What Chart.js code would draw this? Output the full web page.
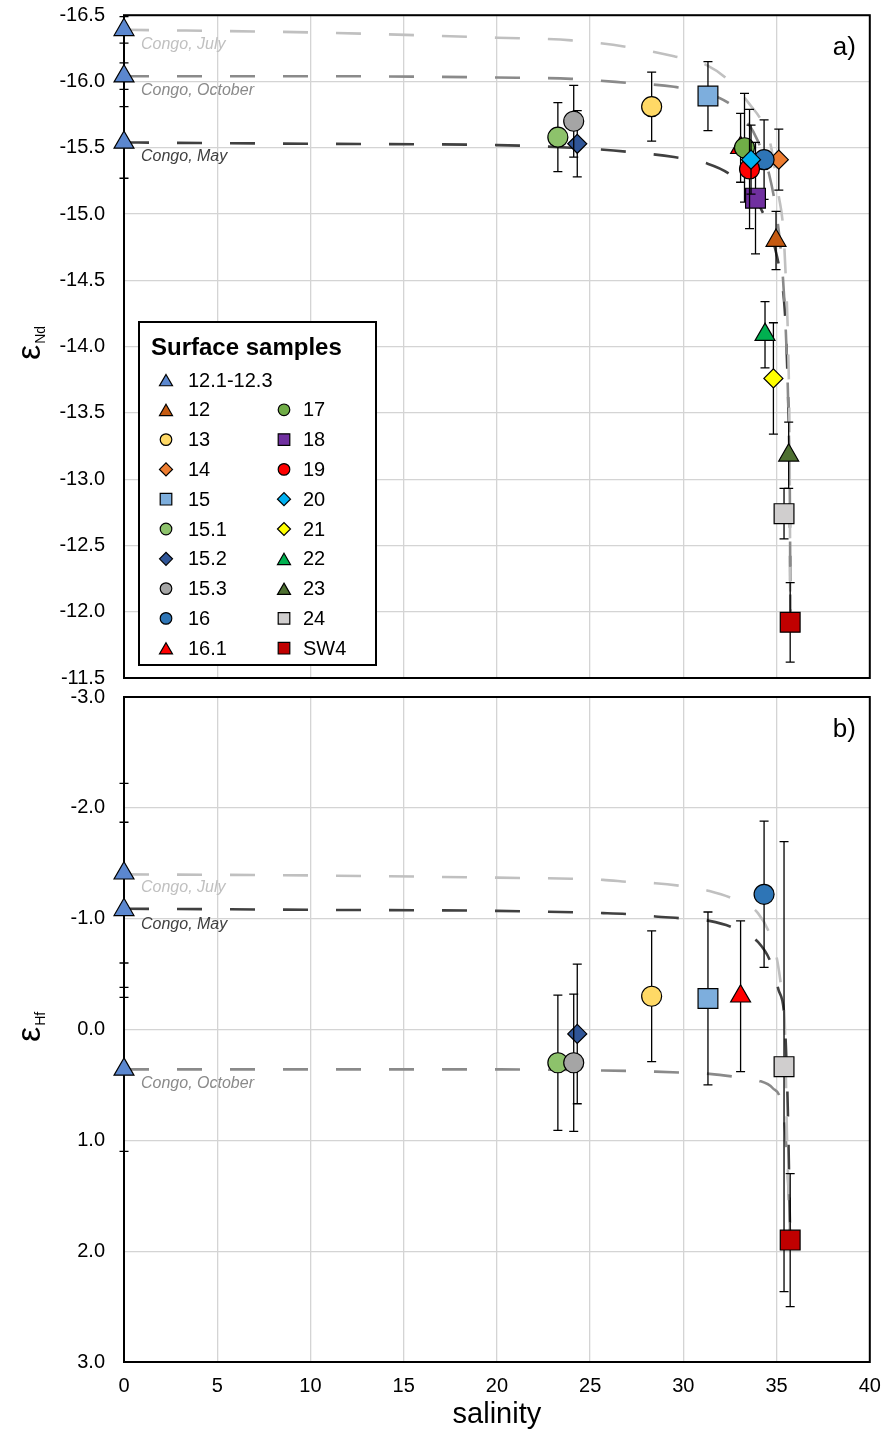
<!DOCTYPE html>
<html>
<head>
<meta charset="utf-8">
<script src="https://cdn.jsdelivr.net/npm/chart.js@4.4.1/dist/chart.umd.min.js"></script>
<style>
  body { margin: 0; background: #fff; }
  #wrap { position: relative; width: 885px; height: 1432px; }
  canvas { position: absolute; left: 0; }
  #chartNd { top: 0; }
  #chartHf { top: 680px; }
</style>
</head>
<body>
<div id="wrap">
  <canvas id="chartNd" width="885" height="700"></canvas>
  <canvas id="chartHf" width="885" height="752"></canvas>
</div>
<script>
// DATA

const samples = ["12", "13", "14", "15", "15.1", "15.2", "15.3", "16", "16.1", "17", "18", "19", "20", "21", "22", "23", "24", "SW4"];
const salinity = [34.97, 28.3, 35.12, 31.32, 23.27, 24.31, 24.12, 34.33, 33.07, 33.28, 33.87, 33.55, 33.63, 34.83, 34.38, 35.65, 35.4, 35.73];
const epsNd = [-14.80, -15.81, -15.41, -15.89, -15.58, -15.53, -15.70, -15.41, -15.50, -15.50, -15.12, -15.34, -15.41, -13.76, -14.09, -13.18, -12.74, -11.92];
const epsNdErr = [0.22, 0.26, 0.23, 0.26, 0.26, 0.25, 0.27, 0.30, 0.26, 0.41, 0.42, 0.45, 0.26, 0.42, 0.25, 0.25, 0.19, 0.30];
const epsHf = [null, -0.30, null, -0.28, 0.30, 0.04, 0.30, -1.22, -0.30, null, null, null, null, null, null, null, 0.335, 1.90];
const epsHfErr = [null, 0.59, null, 0.78, 0.61, 0.63, 0.62, 0.66, 0.68, null, null, null, null, null, null, null, 2.03, 0.60];

// Congo river end members (samples 12.1-12.3)
const congoMonths = ["July", "October", "May"];
const congoSalinity = [0, 0, 0];
const congoNd = [-16.39, -16.04, -15.54];
const congoNdErr = [0.10, 0.10, 0.27];
const congoHf = [-1.41, 0.36, -1.08];
const congoHfErr = [0.81, 0.74, 0.79];

// mixing curves
const mixNdJulySal = [0, 10, 20, 24, 27, 29.5, 31.3, 32.5, 33.6, 34.2, 34.7, 35.1, 35.35, 35.5, 35.62, 35.7, 35.74];
const mixNdJuly = [-16.39, -16.37, -16.33, -16.31, -16.26, -16.19, -16.12, -16.0, -15.82, -15.7, -15.51, -15.15, -14.9, -14.5, -14.0, -13.2, -11.92];
const mixNdOctSal = [0, 10, 20, 24, 27, 29.5, 31.3, 32.4, 33.3, 34.0, 34.6, 35.0, 35.3, 35.5, 35.65, 35.72, 35.74];
const mixNdOct = [-16.04, -16.04, -16.03, -16.02, -15.99, -15.96, -15.91, -15.84, -15.72, -15.55, -15.3, -15.0, -14.6, -14.1, -13.4, -12.7, -11.92];
const mixNdMaySal = [0, 10, 20, 24, 27, 29.5, 31.3, 32.5, 33.5, 34.3, 34.9, 35.2, 35.45, 35.58, 35.68, 35.72, 35.74];
const mixNdMay = [-15.54, -15.53, -15.52, -15.5, -15.47, -15.43, -15.38, -15.3, -15.17, -15.0, -14.75, -14.55, -14.25, -13.8, -13.2, -12.6, -11.92];

const mixHfJulySal = [0, 10, 20, 24, 25.7, 27.2, 28.5, 30.1, 31.4, 32.8, 34.0, 34.7, 35.06, 35.3, 35.45, 35.55, 35.65, 35.73];
const mixHfJuly = [-1.40, -1.39, -1.37, -1.36, -1.35, -1.33, -1.32, -1.29, -1.25, -1.17, -1.05, -0.83, -0.60, -0.30, 0.0, 0.9, 1.5, 1.90];
const mixHfMaySal = [0, 10, 20, 25.7, 27.2, 28.5, 30.1, 31.4, 32.8, 34.0, 34.7, 35.1, 35.4, 35.5, 35.6, 35.68, 35.73];
const mixHfMay = [-1.09, -1.08, -1.07, -1.05, -1.04, -1.02, -1.0, -0.98, -0.91, -0.79, -0.6, -0.36, -0.15, 0.15, 0.7, 1.4, 1.90];
const mixHfOctSal = [0, 10, 20, 25.7, 28.5, 30.1, 31.4, 32.9, 34.0, 34.8, 35.25, 35.5, 35.65, 35.73];
const mixHfOct = [0.36, 0.36, 0.36, 0.37, 0.38, 0.39, 0.40, 0.43, 0.46, 0.53, 0.66, 1.0, 1.5, 1.90];

// tick labels
const xTicks = [0, 5, 10, 15, 20, 25, 30, 35, 40];
const ndTicks = [-16.5, -16.0, -15.5, -15.0, -14.5, -14.0, -13.5, -13.0, -12.5, -12.0, -11.5];
const hfTicks = [-3, -2, -1, 0, 1, 2, 3];

// STYLES

const sampleStyle = ["triangle", "circle", "rectRot", "rect", "circle", "rectRot", "circle", "circle", "triangle", "circle", "rect", "circle", "rectRot", "rectRot", "triangle", "triangle", "rect", "rect"];
const sampleColor = ["#C55A11", "#FFD966", "#ED7D31", "#7DAEDD", "#8DC26B", "#2F5597", "#A5A5A5", "#2E75B6", "#FF0000", "#70AD47", "#7030A0", "#FF0000", "#00B0F0", "#FFFF00", "#00B050", "#4E7031", "#D0CECE", "#C00000"];
const congoColor = "#5B87CF";
const monthColor = { July: "#C0C0C0", October: "#8A8A8A", May: "#404040" };
const bigRadius = { circle: 10, rect: 14, rectRot: 9.5, triangle: 11.5 };
const smallRadius = { circle: 5.8, rect: 8.2, rectRot: 6.5, triangle: 7.5 };

Chart.defaults.font.family = "'Liberation Sans', Arial, sans-serif";
Chart.defaults.color = "#000";

function markerSet(label, xs, ys, errs, style, color, order) {
	return {
		label: label,
		data: xs.map((x, i) => ({ x: x, y: ys[i] })),
		errors: errs,
		pointStyle: style,
		pointRadius: bigRadius[style],
		backgroundColor: color,
		borderColor: "#000",
		borderWidth: 1.2,
		showLine: false,
		clip: false,
		order: order,
	};
}

function mixLine(label, xs, ys, color) {
	return {
		label: label,
		data: xs.map((x, i) => ({ x: x, y: ys[i] })),
		showLine: true,
		pointRadius: 0,
		borderColor: color,
		borderWidth: 2.6,
		borderDash: [25, 28],
		cubicInterpolationMode: "monotone",
		fill: false,
		clip: false,
		order: 100,
	};
}

function buildSets(values, errs, cVals, cErrs, lines) {
	const sets = lines.slice();
	sets.push(markerSet("12.1-12.3", congoSalinity, cVals, cErrs, "triangle", congoColor, 0));
	samples.forEach((name, i) => {
		if (values[i] === null) return;
		sets.push(markerSet(name, [salinity[i]], [values[i]], [errs[i]], sampleStyle[i], sampleColor[i], -(i + 1)));
	});
	return sets;
}

// PLUGIN: frame, error bars, labels, legend
const extras = {
	id: "extras",
	beforeDatasetsDraw(chart) {
		const ctx = chart.ctx, a = chart.chartArea;
		ctx.save();
		ctx.strokeStyle = "#000";
		ctx.lineWidth = 2;
		ctx.strokeRect(a.left, a.top, a.right - a.left, a.bottom - a.top);
		ctx.restore();
	},
	beforeDatasetDraw(chart, args) {
		const ds = chart.data.datasets[args.index];
		if (!ds.errors) return;
		const ys = chart.scales.y, ctx = chart.ctx;
		ctx.save();
		ctx.strokeStyle = "#000";
		ctx.lineWidth = 1.3;
		args.meta.data.forEach((pt, i) => {
			const v = ds.data[i].y, e = ds.errors[i];
			const y1 = ys.getPixelForValue(v - e), y2 = ys.getPixelForValue(v + e);
			ctx.beginPath();
			ctx.moveTo(pt.x, y1); ctx.lineTo(pt.x, y2);
			ctx.moveTo(pt.x - 4.5, y1); ctx.lineTo(pt.x + 4.5, y1);
			ctx.moveTo(pt.x - 4.5, y2); ctx.lineTo(pt.x + 4.5, y2);
			ctx.stroke();
		});
		ctx.restore();
	},
	afterDraw(chart) {
		const o = chart.options.plugins.extras;
		const ctx = chart.ctx, a = chart.chartArea;
		const xs = chart.scales.x, ys = chart.scales.y;
		ctx.save();

		// Congo labels under the mixing lines
		ctx.font = "italic 16px 'Liberation Sans'";
		ctx.textAlign = "left";
		ctx.textBaseline = "alphabetic";
		congoMonths.forEach((m, i) => {
			ctx.fillStyle = monthColor[m];
			ctx.fillText("Congo, " + m, xs.getPixelForValue(0) + 17, ys.getPixelForValue(o.congo[i]) + 19);
		});

		// panel letter
		ctx.fillStyle = "#000";
		ctx.font = "26px 'Liberation Sans'";
		ctx.textAlign = "right";
		ctx.fillText(o.panel, a.right - 14, a.top + 40);

		// y title, epsilon with subscript
		ctx.translate(40, o.titleY);
		ctx.rotate(-Math.PI / 2);
		ctx.textAlign = "left";
		ctx.font = "34px 'Liberation Sans'";
		ctx.fillText("ε", 0, 0);
		const w = ctx.measureText("ε").width;
		ctx.font = "14px 'Liberation Sans'";
		ctx.fillText(o.sub, w + 1, 5);
		ctx.setTransform(1, 0, 0, 1, 0, 0);

		if (o.legend) drawLegend(ctx);
		ctx.restore();
	},
};

function drawLegend(ctx) {
	const L = 139, T = 322, R = 376, B = 665;
	ctx.fillStyle = "#fff";
	ctx.fillRect(L, T, R - L, B - T);
	ctx.strokeStyle = "#000";
	ctx.lineWidth = 2;
	ctx.strokeRect(L, T, R - L, B - T);
	ctx.fillStyle = "#000";
	ctx.font = "bold 24px 'Liberation Sans'";
	ctx.textAlign = "left";
	ctx.textBaseline = "alphabetic";
	ctx.fillText("Surface samples", 151, 355);

	const entries = [{ name: "12.1-12.3", style: "triangle", color: congoColor }].concat(
		samples.map((s, i) => ({ name: s, style: sampleStyle[i], color: sampleColor[i] }))
	);
	ctx.font = "20px 'Liberation Sans'";
	ctx.textBaseline = "middle";
	entries.forEach((e, k) => {
		const col = k < 10 ? 0 : 1;
		const row = k < 10 ? k : k - 9;
		const mx = col ? 284 : 166, tx = col ? 303 : 188;
		const y = 380 + row * 29.8;
		ctx.fillStyle = e.color;
		ctx.strokeStyle = "#000";
		ctx.lineWidth = 1.2;
		const dy = e.style === "triangle" ? 2 : 0;
		Chart.helpers.drawPoint(ctx, { pointStyle: e.style, radius: smallRadius[e.style], borderWidth: 1.2, rotation: 0 }, mx, y + dy);
		ctx.fillStyle = "#000";
		ctx.fillText(e.name, tx, y + 1);
	});
}

function baseOptions(yMin, yMax, yTicks, showX) {
	return {
		responsive: false,
		animation: false,
		events: [],
		plugins: { legend: { display: false }, tooltip: { enabled: false } },
		scales: {
			x: {
				type: "linear",
				min: 0,
				max: 40,
				afterBuildTicks: (s) => { s.ticks = xTicks.map((v) => ({ value: v })); },
				afterFit: (s) => { s.height = showX ? 70 : 0; s.paddingLeft = 0; s.paddingRight = 0; },
				grid: { color: "#D4D4D4", lineWidth: 1.3, drawTicks: false },
				border: { display: false },
				ticks: { display: showX, font: { size: 20 }, padding: 12, maxRotation: 0 },
				title: { display: showX, text: "salinity", font: { size: 29 }, padding: { top: 2, bottom: 0 } },
			},
			y: {
				type: "linear",
				min: yMin,
				max: yMax,
				reverse: true,
				afterBuildTicks: (s) => { s.ticks = yTicks.map((v) => ({ value: v })); },
				afterFit: (s) => { s.width = 124; s.paddingTop = 0; s.paddingBottom = 0; },
				grid: { color: "#D4D4D4", lineWidth: 1.3, drawTicks: false },
				border: { display: false },
				ticks: { font: { size: 20 }, padding: 19, callback: (v) => Number(v).toFixed(1) },
			},
		},
	};
}

// RENDER

const ndOptions = baseOptions(-16.5, -11.5, ndTicks, false);
ndOptions.layout = { padding: { left: 0, top: 15, right: 13, bottom: 22 } };
ndOptions.plugins.extras = { panel: "a)", sub: "Nd", titleY: 360, legend: true, congo: congoNd };

new Chart(document.getElementById("chartNd"), {
	type: "scatter",
	data: {
		datasets: buildSets(epsNd, epsNdErr, congoNd, congoNdErr, [
			mixLine("July", mixNdJulySal, mixNdJuly, monthColor.July),
			mixLine("October", mixNdOctSal, mixNdOct, monthColor.October),
			mixLine("May", mixNdMaySal, mixNdMay, monthColor.May),
		]),
	},
	options: ndOptions,
	plugins: [extras],
});

const hfOptions = baseOptions(-3, 3, hfTicks, true);
hfOptions.layout = { padding: { left: 0, top: 17, right: 13, bottom: 0 } };
hfOptions.plugins.extras = { panel: "b)", sub: "Hf", titleY: 362, legend: false, congo: congoHf };

new Chart(document.getElementById("chartHf"), {
	type: "scatter",
	data: {
		datasets: buildSets(epsHf, epsHfErr, congoHf, congoHfErr, [
			mixLine("July", mixHfJulySal, mixHfJuly, monthColor.July),
			mixLine("October", mixHfOctSal, mixHfOct, monthColor.October),
			mixLine("May", mixHfMaySal, mixHfMay, monthColor.May),
		]),
	},
	options: hfOptions,
	plugins: [extras],
});
</script>
</body>
</html>
